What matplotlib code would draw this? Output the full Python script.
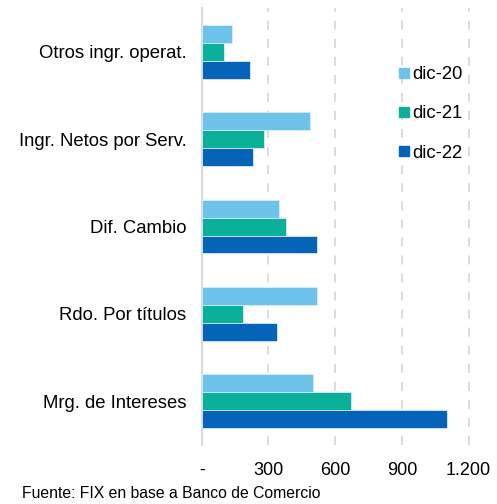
import matplotlib.pyplot as plt
import numpy as np
from matplotlib.lines import Line2D

plt.rcParams["font.family"] = ["Liberation Sans", "DejaVu Sans"]

categories = [
    "Otros ingr. operat.",
    "Ingr. Netos por Serv.",
    "Dif. Cambio",
    "Rdo. Por títulos",
    "Mrg. de Intereses",
]
series = ["dic-20", "dic-21", "dic-22"]
dic20 = [134, 489, 349, 520, 501]
dic21 = [101, 278, 378, 186, 672]
dic22 = [218, 231, 520, 340, 1105]
colors = ["#6DC3EA", "#0BB09A", "#0563B8"]

fig = plt.figure(figsize=(4.97, 5.04), dpi=100)
ax = fig.add_axes([0.406, 0.117, 0.594, 0.867])

y = np.arange(len(categories))
h = 0.205
for i, (vals, c) in enumerate(zip([dic20, dic21, dic22], colors)):
    ax.barh(y + (i - 1) * h, vals, height=h, color=c,
            edgecolor="#D6ECF8", linewidth=0.6, zorder=3)

ax.set_ylim(len(categories) - 0.5, -0.5)
ax.set_xlim(0, 1328)
ax.set_yticks(y)
ax.set_yticklabels(categories, fontsize=13.3)
ax.set_xticks([0, 300, 600, 900, 1200])
ax.set_xticklabels(["-", "300", "600", "900", "1.200"], fontsize=13)
ax.tick_params(axis="x", length=0, pad=12)
ax.tick_params(axis="y", length=0, pad=11)

for s in ["top", "right", "bottom"]:
    ax.spines[s].set_visible(False)
ax.spines["left"].set_color("#D9D9D9")
ax.spines["left"].set_linewidth(1.5)
ax.grid(axis="x", color="#D9D9D9", linestyle=(0, (5, 5)), linewidth=1.3, zorder=0)
for gl in ax.get_xgridlines()[:1]:
    gl.set_visible(False)

handles = [Line2D([], [], marker="s", linestyle="none", markersize=7.5,
                  color=c) for c in colors]
ax.legend(handles, series, loc="upper left", bbox_to_anchor=(0.611, 0.905),
          frameon=False, fontsize=13.3, handletextpad=0.15, labelspacing=1.2,
          handlelength=0.6)

fig.text(0.045, 0.012, "Fuente: FIX en base a Banco de Comercio", fontsize=11.3)

plt.savefig("out.png", dpi=100)
